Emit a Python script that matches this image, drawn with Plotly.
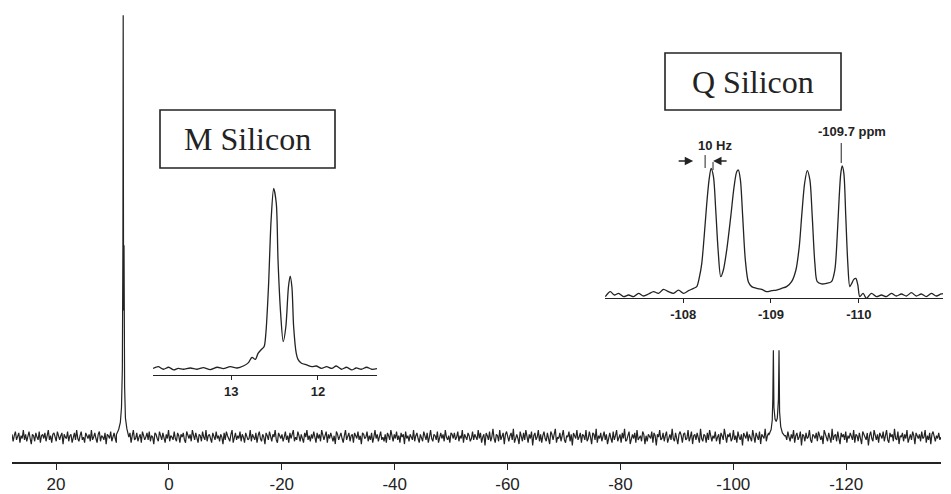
import numpy as np
import plotly.graph_objects as go

# ---------------- data ----------------
main_ticks = [20, 0, -20, -40, -60, -80, -100, -120]
main_tick_text = ["20", "0", "-20", "-40", "-60", "-80", "-100", "-120"]
main_ppm_start = 27.8
main_ppm_end = -136.8
# baseline noise (hand-estimated, arbitrary units x noise_scale)
noise_a = [
 2,-3,1,4,-2,0,3,-4,1,-1,5,-2,2,-3,0,4,-1,-5,2,1,-3,3,0,-2,4,-4,1,2,-1,3,
 -3,0,5,-2,1,-4,2,3,-1,-3,4,0,-2,1,3,-5,2,0,-1,4,-3,1,2,-4,0,3,-2,5,-1,-3,
 1,4,-2,0,-4,3,1,-1,2,-3,5,-2,0,3,-1,-4,2,4,-3,1,0,-2,3,-5,2,1,-1,4,-3,0,
 3,-1,-4,2,5,-3,0,1,-2,4,-1,-3,2,0,3,-4,1,5,-2,-1,3,-3,0,2,-4,4,1,-2,0,3,
 -2,4,-3,1,0,-5,3,2,-1,-3,4,1,-2,3,0,-4,2,-1,5,-3,1,0,-2,4,-1,-3,3,1,-4,2,
 0,3,-2,-4,4,1,-1,2,-3,5,0,-2,3,-1,-4,2,1,-3,4,0,-2,5,-3,1,2,-1,-4,3,0,-2,
 4,-1,1,-3,2,0,-5,3,-2,4,1,-1,-3,2,5,-4,0,3,-2,1,-1,4,-3,2,0,-4,3,1,-2,-1,
 5,-3,2,0,-2,3,-4,1,4,-1,-3,2,0,-5,3,1,-2,4,-1,-3,2,0,5,-2,-4,3,1,-1,2,-3,
 0,4,-2,1,-4,3,-1,2,5,-3,0,-2,4,1,-3,2,-1,-4,3,0,5,-2,1,-3,2,-1,4,0,-4,3,
 -1,2,-3,5,0,-2,1,4,-4,2,-1,3,0,-3,1,-5,4,2,-2,0,3,-1,-4,1,5,-2,0,3,-3,1,
 2,-4,3,0,-1,4,-2,1,-5,3,2,-1,0,4,-3,1,-2,3,-4,0,5,-1,2,-3,1,4,-2,0,-3,2,
 -4,3,1,-2,5,0,-3,2,-1,4,-2,1,-4,3,0,2,-5,4,-1,1,-3,2,0,-2,5,-3,1,3,-1,-4,
 2,0,-3,4,1,-2,3,-4,0,5,-1,-3,2,1,-2,4,-4,0,3,-1,2,-3,5,0,-2,1,-4,3,2,-1,
 3,-2,0,4,-3,1,-1,5,-4,2,0,-2,3,1,-3,-1,4,-2,2,0,
]
noise_b = [
 -2,5,-1,3,-4,0,2,-6,3,1,-2,4,-3,0,6,-1,-4,2,1,-3,5,-2,0,3,-5,2,4,-1,-3,1,
 3,-2,6,-4,0,2,-1,-5,4,1,-3,3,-2,5,0,-4,2,-1,4,-6,1,3,-2,0,5,-3,2,-4,1,4,
 -1,-3,3,0,-5,4,2,-2,1,6,-4,0,-1,3,-3,2,5,-2,-4,1,0,4,-3,2,-6,3,1,-1,5,-2,
 0,3,-4,2,1,-2,5,-3,-1,4,0,-5,3,2,-2,6,-4,1,-1,3,-3,0,4,-2,2,-5,1,3,-1,-4,
 4,-2,1,5,-3,0,2,-4,3,-1,6,-3,-2,1,4,-5,0,2,-1,3,-4,5,-2,0,1,-3,4,2,-5,1,
 -3,2,0,-1,4,-4,3,1,-6,2,0,5,-2,-1,3,-3,1,4,-4,0,2,-2,6,-1,-3,3,0,-5,2,4,
 1,-4,2,3,-2,-1,5,-3,0,4,-5,1,2,-2,3,0,-4,6,-1,-3,2,1,-4,3,-2,5,0,-3,1,-1,
 4,-3,0,2,-5,3,1,-2,6,-1,-4,2,0,3,-3,-1,5,-2,1,-4,4,0,-2,2,-6,3,1,-1,4,-3,
 2,0,-3,5,-1,-4,3,1,-2,4,-5,2,0,-1,6,-3,1,3,-4,0,2,-2,5,-1,-3,1,4,-4,2,0,
 -5,3,1,-2,4,0,-3,2,-1,5,-4,1,3,-2,0,4,-6,2,1,-3,3,-1,0,5,-2,-4,2,1,-1,3,
 -3,4,0,-2,1,-5,5,2,-1,-3,3,0,-4,6,-2,1,2,-3,4,-1,-5,3,0,2,-2,4,-4,1,-1,3,
 0,-2,5,-4,2,1,-3,3,-1,-5,4,2,0,-2,3,-6,1,4,-1,-3,5,0,-2,2,-4,3,1,-1,4,-3,
 1,5,-2,-4,3,0,2,-3,6,-1,-2,4,-5,1,0,3,-3,2,-1,5,-4,0,2,-2,4,1,-5,3,0,-1,
 2,-3,4,-1,0,5,-4,1,-2,3,-5,2,4,0,-3,1,-1,3,-2,0,
]
noise_scale = 0.33
# M silicon peak in the full spectrum
m_full_ppm = [9.3, 8.9, 8.6, 8.4, 8.25, 8.15, 8.1, 8.03, 7.95, 7.85, 7.7, 7.45, 7.2]
m_full_int = [0.6, 1.8, 3.5, 7.0, 16, 45, 100, 30, 45.5, 12, 4.5, 2.0, 0.5]
m_full_lo, m_full_hi = 7.2, 9.3
# Q silicon peaks in the full spectrum
q_full_ppm = [-106.3, -106.7, -106.9, -107.0, -107.1, -107.2, -107.4, -107.6,
              -107.8, -108.0, -108.1, -108.2, -108.4, -108.7, -109.1]
q_full_int = [0.5, 1.8, 4.0, 9.0, 20.6, 7.0, 4.2, 3.7, 4.5, 9.0, 20.6, 6.0, 2.5, 1.0, 0.3]
q_full_lo, q_full_hi = -109.1, -106.3

# M silicon inset
m_ticks = [13, 12]
m_tick_text = ["13", "12"]
m_ppm = [13.90,13.84,13.78,13.72,13.66,13.61,13.55,13.47,13.39,13.32,13.24,13.16,13.09,13.01,
         12.93,12.86,12.80,12.76,12.72,12.69,12.65,12.62,12.60,12.57,12.54,12.51,12.48,12.46,
         12.43,12.40,12.37,12.34,12.32,12.30,12.28,12.25,12.23,12.19,12.13,12.07,12.02,11.96,
         11.90,11.84,11.79,11.73,11.67,11.61,11.56,11.50,11.44,11.38,11.32]
m_int = [-0.2,0.7,-0.7,0.4,-1.1,-0.2,-0.7,0,-0.7,0.2,-0.9,0.4,-0.4,0.7,
         0,1.1,3.0,5.9,4.8,8.1,10.4,11.9,19.3,45,82,99.8,91.5,60,
         30.4,14.6,22.9,45,51,45,22.9,8.1,4.8,2.6,1.7,0.7,1.1,-0.2,
         0.7,-0.2,1.1,-0.7,0.4,-1.1,0,-0.7,0.4,-0.7,-0.4]

# Q silicon inset
q_ticks = [-108, -109, -110]
q_tick_text = ["-108", "-109", "-110"]
q_ppm = [-107.114,-107.170,-107.216,-107.265,-107.322,-107.379,-107.436,-107.492,-107.549,-107.606,
         -107.663,-107.720,-107.776,-107.833,-107.890,-107.947,-108.004,-108.061,-108.117,-108.155,
         -108.186,-108.212,-108.239,-108.269,-108.295,-108.318,-108.345,-108.371,-108.398,-108.428,
         -108.458,-108.496,-108.542,-108.580,-108.610,-108.629,-108.652,-108.678,-108.708,-108.742,
         -108.780,-108.837,-108.894,-108.951,-109.008,-109.064,-109.121,-109.178,-109.235,-109.284,
         -109.322,-109.352,-109.383,-109.413,-109.443,-109.470,-109.500,-109.527,-109.576,-109.633,
         -109.689,-109.727,-109.754,-109.777,-109.795,-109.811,-109.830,-109.852,-109.875,-109.898,
         -109.920,-109.943,-109.966,-109.989,-110.011,-110.049,-110.087,-110.144,-110.201,-110.258,
         -110.314,-110.371,-110.428,-110.485,-110.542,-110.599,-110.655,-110.712,-110.769,-110.826,
         -110.883,-110.939,-110.996,-111.034]
q_int = [-1.3,2.6,0,1.3,-1.3,0,-1.3,1.3,-0.8,0.8,
         2.6,1.3,4.5,2.6,1.3,3.9,1.3,3.4,5.2,6.6,
         14.4,24.9,45.9,72.2,90.6,99.7,93.2,66.9,35.4,14.4,
         19.7,35.4,61.7,85.3,97.1,98.4,90.6,61.7,27.6,10.5,
         6.6,5.2,4.5,2.6,3.4,3.9,5.2,6.6,10.5,19.7,
         38.1,64.3,87.9,97.9,90.6,61.7,24.9,10.5,8.7,9.2,
         10.5,19.7,45.9,77.4,95.8,101.6,95.8,61.7,24.9,6.6,
         9.2,12.3,13.1,7.9,-1.3,1.3,-2.6,1.3,-1.3,0,
         -1.3,1.3,-0.8,0.8,-0.8,1.8,-0.8,0.8,-1.3,1.3,
         -0.8,0.8,1.3,0]

# annotation anchors (Q inset data coordinates)
hz_label = "10 Hz"
hz_arrow_right_head = (-108.114, 105.5)
hz_arrow_left_head = (-108.341, 105.5)
hz_marks = [(-108.25, 100.0, 110.2), (-108.34, 98.4, 104.7)]
hz_text_pos = (-108.364, 118.1)
peak_label = "-109.7 ppm"
peak_label_pos = (-109.92, 129.1)
peak_mark = (-109.80, 103.9, 119.7)

# ---------------- build full spectrum ----------------
noise = noise_a + noise_b
grid = np.linspace(main_ppm_start, main_ppm_end, len(noise))
base = np.array(noise, dtype=float) * noise_scale
keep = ~(((grid >= m_full_lo) & (grid <= m_full_hi)) | ((grid >= q_full_lo) & (grid <= q_full_hi)))
fx = np.concatenate([grid[keep], m_full_ppm, q_full_ppm])
fy = np.concatenate([base[keep], m_full_int, q_full_int])
order = np.argsort(-fx)
fx, fy = fx[order], fy[order]

INK = "#232323"
PAGE_W, PAGE_H = 951, 494
OFF = 8  # default page body margin
W, H = PAGE_W - OFF, PAGE_H - OFF


def px(x):
    return (x - OFF) / W


def py(y):
    return (PAGE_H - y) / H


fig = go.Figure()
fig.add_trace(go.Scatter(x=fx, y=fy, mode="lines", line=dict(color=INK, width=1.2),
                         xaxis="x", yaxis="y", hoverinfo="skip"))
fig.add_trace(go.Scatter(x=m_ppm, y=m_int, mode="lines",
                         line=dict(color=INK, width=1.3, shape="spline", smoothing=0.8),
                         xaxis="x2", yaxis="y2", hoverinfo="skip"))
fig.add_trace(go.Scatter(x=q_ppm, y=q_int, mode="lines",
                         line=dict(color=INK, width=1.3, shape="spline", smoothing=0.8),
                         xaxis="x3", yaxis="y3", hoverinfo="skip"))

sans = "Liberation Sans, Arial, sans-serif"
serif = "Liberation Serif, Times New Roman, serif"

common_x = dict(showgrid=False, zeroline=False, showline=True, linecolor=INK,
                ticks="outside", tickcolor=INK)
fig.update_layout(
    width=W, height=H,
    margin=dict(l=0, r=0, t=0, b=0),
    paper_bgcolor="white", plot_bgcolor="rgba(0,0,0,0)",
    showlegend=False,
    xaxis=dict(domain=[px(12), px(941)], range=[main_ppm_start, main_ppm_end], anchor="y",
               tickvals=main_ticks, ticktext=main_tick_text, ticklen=6, tickwidth=1.3, linewidth=1.5,
               tickfont=dict(family=sans, size=17, color=INK), **common_x),
    yaxis=dict(domain=[py(462), 1], range=[-5.9, 101.7], visible=False, anchor="x"),
    xaxis2=dict(domain=[px(153), px(377)], range=[13.9, 11.32], anchor="y2",
                tickvals=m_ticks, ticktext=m_tick_text, ticklen=4, tickwidth=1, linewidth=1.3,
                tickfont=dict(family=sans, size=13, color=INK, weight="bold"), **common_x),
    yaxis2=dict(domain=[py(375), py(185)], range=[-3.9, 101.7], visible=False, anchor="x2"),
    xaxis3=dict(domain=[px(605), 1.0], range=[-107.11, -111.05], anchor="y3",
                tickvals=q_ticks, ticktext=q_tick_text, ticklen=4, tickwidth=1, linewidth=1.3,
                tickfont=dict(family=sans, size=13, color=INK, weight="bold"), **common_x),
    yaxis3=dict(domain=[py(298), py(120)], range=[-2.36, 137.8], visible=False, anchor="x3"),
)

shapes = [
    dict(type="rect", xref="paper", yref="paper", x0=px(160), x1=px(335), y0=py(168), y1=py(110),
         line=dict(color=INK, width=1.6)),
    dict(type="rect", xref="paper", yref="paper", x0=px(665), x1=px(841), y0=py(110), y1=py(53),
         line=dict(color=INK, width=1.6)),
]
for xm, y0, y1 in hz_marks:
    shapes.append(dict(type="line", xref="x3", yref="y3", x0=xm, x1=xm, y0=y0, y1=y1,
                       line=dict(color=INK, width=1)))
shapes.append(dict(type="line", xref="x3", yref="y3", x0=peak_mark[0], x1=peak_mark[0],
                   y0=peak_mark[1], y1=peak_mark[2], line=dict(color=INK, width=1)))
fig.update_layout(shapes=shapes)

annotations = [
    dict(xref="paper", yref="paper", x=px(247.5), y=py(139), text="M Silicon", showarrow=False,
         font=dict(family=serif, size=32, color=INK), xanchor="center", yanchor="middle"),
    dict(xref="paper", yref="paper", x=px(753), y=py(82), text="Q Silicon", showarrow=False,
         font=dict(family=serif, size=32, color=INK), xanchor="center", yanchor="middle"),
    dict(xref="x3", yref="y3", x=hz_text_pos[0], y=hz_text_pos[1], text=hz_label, showarrow=False,
         font=dict(family=sans, size=13, color=INK, weight="bold"), xanchor="center", yanchor="middle"),
    dict(xref="x3", yref="y3", x=peak_label_pos[0], y=peak_label_pos[1], text=peak_label, showarrow=False,
         font=dict(family=sans, size=13, color=INK, weight="bold"), xanchor="center", yanchor="middle"),
    dict(xref="x3", yref="y3", x=hz_arrow_right_head[0], y=hz_arrow_right_head[1], text="",
         showarrow=True, ax=-16, ay=0, arrowhead=2, arrowsize=1.2, arrowwidth=1.4, arrowcolor=INK),
    dict(xref="x3", yref="y3", x=hz_arrow_left_head[0], y=hz_arrow_left_head[1], text="",
         showarrow=True, ax=15, ay=0, arrowhead=2, arrowsize=1.2, arrowwidth=1.4, arrowcolor=INK),
]
fig.update_layout(annotations=annotations)

fig.write_html("out.html")
